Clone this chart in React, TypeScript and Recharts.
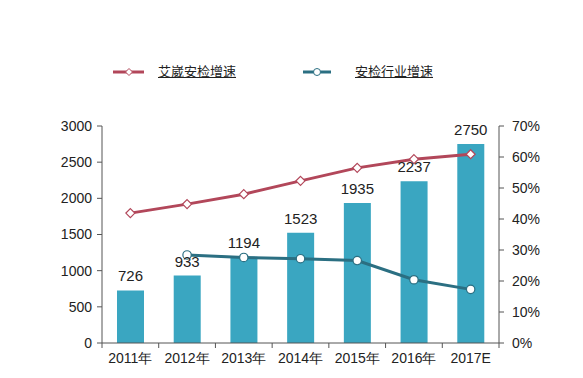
import React from "react";
import { ComposedChart, Bar, Line, XAxis, YAxis, LabelList } from "recharts";

const years = ["2011年", "2012年", "2013年", "2014年", "2015年", "2016年", "2017E"];
const revenue = [726, 933, 1194, 1523, 1935, 2237, 2750];
const aiweiGrowth = [41.9, 44.8, 48.0, 52.3, 56.5, 59.3, 60.9];
const industryGrowth = [null, 28.4, 27.6, 27.2, 26.6, 20.4, 17.3];
const leftTicks = [0, 500, 1000, 1500, 2000, 2500, 3000];
const rightTicks = [0, 10, 20, 30, 40, 50, 60, 70];

const BAR = "#3aa6c1";
const RED = "#b2475a";
const TEAL = "#2b6f82";
const FONT = "'Liberation Sans', Arial, sans-serif";

const data = years.map((y, i) => ({
  year: y,
  revenue: revenue[i],
  aiwei: aiweiGrowth[i],
  industry: industryGrowth[i],
}));

const W = 583;
const H = 378;
const M = { top: 126, right: 24, bottom: 5, left: 42 };
const AXIS_W = 60;

function XTick({ x, y, payload, index }: any) {
  const band = (W - M.left - M.right - AXIS_W * 2) / years.length;
  return (
    <g>
      <line x1={x - band / 2} x2={x - band / 2} y1={y - 8} y2={y - 3} stroke="#555" />
      {index === years.length - 1 && (
        <line x1={x + band / 2} x2={x + band / 2} y1={y - 8} y2={y - 3} stroke="#555" />
      )}
      <text x={x} y={y + 12} textAnchor="middle" fontSize={14} fill="#222" fontFamily={FONT}>
        {payload.value}
      </text>
    </g>
  );
}

function Diamond({ cx, cy }: any) {
  if (cx == null || cy == null) return null;
  const r = 4.5;
  return (
    <path
      d={`M${cx},${cy - r}L${cx + r},${cy}L${cx},${cy + r}L${cx - r},${cy}Z`}
      fill="#fff"
      stroke={RED}
      strokeWidth={1.2}
    />
  );
}

function Circle({ cx, cy, value }: any) {
  if (cx == null || cy == null || value == null) return null;
  return <circle cx={cx} cy={cy} r={4.2} fill="#fff" stroke={TEAL} strokeWidth={1.2} />;
}

export default function App() {
  return (
    <div style={{ position: "absolute", left: 0, top: 0, width: W, height: H, background: "#fff" }}>
      <div
        style={{
          position: "absolute",
          left: 0,
          top: 0,
          width: W,
          height: 100,
          fontFamily: "'Noto Sans CJK SC', sans-serif",
          fontSize: 13,
          color: "#222",
        }}
      >
        <svg width={W} height={100} style={{ position: "absolute", left: 0, top: 0 }}>
          <line x1={113} x2={144} y1={72} y2={72} stroke={RED} strokeWidth={3} />
          <path d="M129,68.5L132.5,72L129,75.5L125.5,72Z" fill="#fff" stroke={RED} strokeWidth={1} />
          <line x1={303} x2={331} y1={72} y2={72} stroke={TEAL} strokeWidth={3} />
          <circle cx={317} cy={72} r={3.5} fill="#fff" stroke={TEAL} strokeWidth={1} />
        </svg>
        <span style={{ position: "absolute", left: 158, top: 61, textDecoration: "underline" }}>艾崴安检增速</span>
        <span style={{ position: "absolute", left: 355, top: 61, textDecoration: "underline" }}>安检行业增速</span>
      </div>
      <ComposedChart width={W} height={H} data={data} margin={M} style={{ position: "absolute", left: 0, top: 0 }}>
        <XAxis
          dataKey="year"
          axisLine={{ stroke: "#555" }}
          tickLine={false}
          tick={<XTick />}
          interval={0}
          height={30}
        />
        <YAxis
          yAxisId="left"
          domain={[0, 3000]}
          ticks={leftTicks}
          width={AXIS_W}
          axisLine={{ stroke: "#555" }}
          tickLine={{ stroke: "#555" }}
          tickSize={5}
          tickMargin={5}
          tick={{ fontSize: 14, fill: "#222", fontFamily: FONT }}
          interval={0}
        />
        <YAxis
          yAxisId="right"
          orientation="right"
          domain={[0, 70]}
          ticks={rightTicks}
          width={AXIS_W}
          axisLine={{ stroke: "#555" }}
          tickLine={{ stroke: "#555" }}
          tickSize={5}
          tickMargin={8}
          tickFormatter={(v) => `${v}%`}
          tick={{ fontSize: 14, fill: "#222", fontFamily: FONT }}
          interval={0}
        />
        <Bar yAxisId="left" dataKey="revenue" fill={BAR} barSize={27} isAnimationActive={false}>
          <LabelList
            dataKey="revenue"
            position="top"
            offset={9}
            style={{ fontSize: 15, fill: "#222", fontFamily: FONT }}
          />
        </Bar>
        <Line
          yAxisId="right"
          dataKey="aiwei"
          stroke={RED}
          strokeWidth={3}
          dot={<Diamond />}
          isAnimationActive={false}
        />
        <Line
          yAxisId="right"
          dataKey="industry"
          stroke={TEAL}
          strokeWidth={3}
          dot={<Circle />}
          connectNulls={false}
          isAnimationActive={false}
        />
      </ComposedChart>
    </div>
  );
}
